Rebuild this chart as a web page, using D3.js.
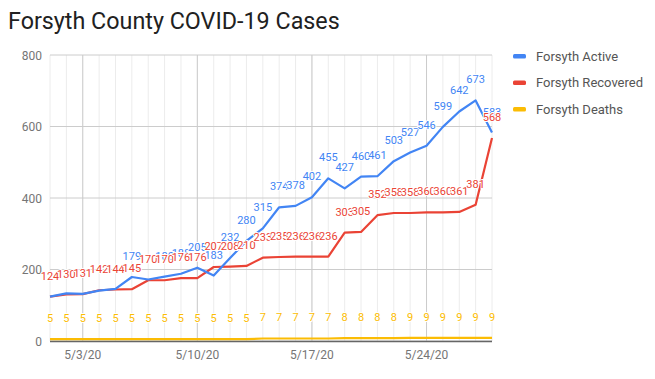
<!DOCTYPE html>
<html><head><meta charset="utf-8">
<script src="https://cdn.jsdelivr.net/npm/d3@7"></script>
<style>
html,body{margin:0;padding:0;background:#fff;}
svg{display:block;font-family:Roboto,"Noto Sans",sans-serif;}
</style></head>
<body>
<svg id="chart" width="655" height="379"></svg>
<script>
const title = "Forsyth County COVID-19 Cases";
const dates = ["2020-05-01","2020-05-02","2020-05-03","2020-05-04","2020-05-05","2020-05-06","2020-05-07",
  "2020-05-08","2020-05-09","2020-05-10","2020-05-11","2020-05-12","2020-05-13","2020-05-14",
  "2020-05-15","2020-05-16","2020-05-17","2020-05-18","2020-05-19","2020-05-20","2020-05-21",
  "2020-05-22","2020-05-23","2020-05-24","2020-05-25","2020-05-26","2020-05-27","2020-05-28"];
const active = [124,133,132,141,146,179,172,180,188,205,183,232,280,315,374,378,402,455,427,460,461,503,527,546,599,642,673,583];
const recovered = [124,130,131,142,144,145,170,170,176,176,207,208,210,233,235,236,236,236,303,305,352,358,358,360,360,361,381,568];
const deaths = [5,5,5,5,5,5,5,5,5,5,5,5,5,7,7,7,7,7,8,8,8,8,9,9,9,9,9,9];
const seriesNames = ["Forsyth Active","Forsyth Recovered","Forsyth Deaths"];
const seriesColors = ["#4285f4","#ea4335","#fbbc04"];
const yTicks = [0,200,400,600,800];
const xTicks = ["2020-05-03","2020-05-10","2020-05-17","2020-05-24"];
const xTickLabels = ["5/3/20","5/10/20","5/17/20","5/24/20"];

const parse = d3.timeParse("%Y-%m-%d");
const D = dates.map(parse);
const svg = d3.select("#chart");

const x = d3.scaleTime().domain(d3.extent(D)).range([50, 492]);
const y = d3.scaleLinear().domain([0, 800]).range([341, 55]);

// title
svg.append("text").attr("x", 8).attr("y", 29).attr("font-size", 23.3).attr("fill", "#212121").text(title);

// minor vertical grid (daily)
svg.append("g").selectAll("line").data(D).join("line")
  .attr("x1", d => x(d)).attr("x2", d => x(d)).attr("y1", y(800)).attr("y2", y(0))
  .attr("stroke", "#ececec").attr("stroke-width", 1);
// horizontal grid
svg.append("g").selectAll("line").data(yTicks).join("line")
  .attr("x1", 50).attr("x2", 492).attr("y1", d => y(d)).attr("y2", d => y(d))
  .attr("stroke", "#cccccc").attr("stroke-width", 1);
// major vertical grid
const XT = xTicks.map(parse);
svg.append("g").selectAll("line").data(XT).join("line")
  .attr("x1", d => x(d)).attr("x2", d => x(d)).attr("y1", y(800)).attr("y2", y(0))
  .attr("stroke", "#cccccc").attr("stroke-width", 1);

// y labels
svg.append("g").selectAll("text").data(yTicks).join("text")
  .attr("x", 42).attr("y", d => y(d) + 4.5).attr("text-anchor", "end")
  .attr("font-size", 12).attr("fill", "#757575").text(d => d);
// x labels
svg.append("g").selectAll("text").data(XT).join("text")
  .attr("x", d => x(d)).attr("y", 359).attr("text-anchor", "middle")
  .attr("font-size", 12).attr("fill", "#757575").text((d, i) => xTickLabels[i]);

// baseline
svg.append("line").attr("x1", 50).attr("x2", 492).attr("y1", y(0) + 0.5).attr("y2", y(0) + 0.5)
  .attr("stroke", "#666").attr("stroke-width", 1.5);

const allSeries = [active, recovered, deaths];
const line = d3.line().x((d, i) => x(D[i])).y(d => y(d));
[2, 1, 0].forEach(s => {
  svg.append("path").datum(allSeries[s]).attr("d", line)
    .attr("fill", "none").attr("stroke", seriesColors[s]).attr("stroke-width", 2.2)
    .attr("stroke-linejoin", "round");
});

// data labels (a label that sits almost exactly under a later series' label is hidden)
[0, 1, 2].forEach(s => {
  const g = svg.append("g");
  allSeries[s].forEach((v, i) => {
    const hidden = allSeries.some((o, t) => t > s && Math.abs(y(o[i]) - y(v)) < 3.2);
    if (hidden) return;
    g.append("text").attr("x", x(D[i])).attr("y", y(v) - 17)
      .attr("text-anchor", "middle").attr("font-size", 11)
      .attr("fill", seriesColors[s]).attr("stroke", "#fff").attr("stroke-width", 2)
      .attr("paint-order", "stroke").attr("stroke-linejoin", "round")
      .text(v);
  });
});

// legend
const lg = svg.append("g");
seriesNames.forEach((n, i) => {
  const yy = 56 + i * 26.5;
  lg.append("rect").attr("x", 513).attr("y", yy - 2).attr("width", 13).attr("height", 4.5)
    .attr("rx", 1.5).attr("fill", seriesColors[i]);
  lg.append("text").attr("x", 536).attr("y", yy + 4.5).attr("font-size", 13)
    .attr("fill", "#555").text(n);
});
</script>
</body></html>
